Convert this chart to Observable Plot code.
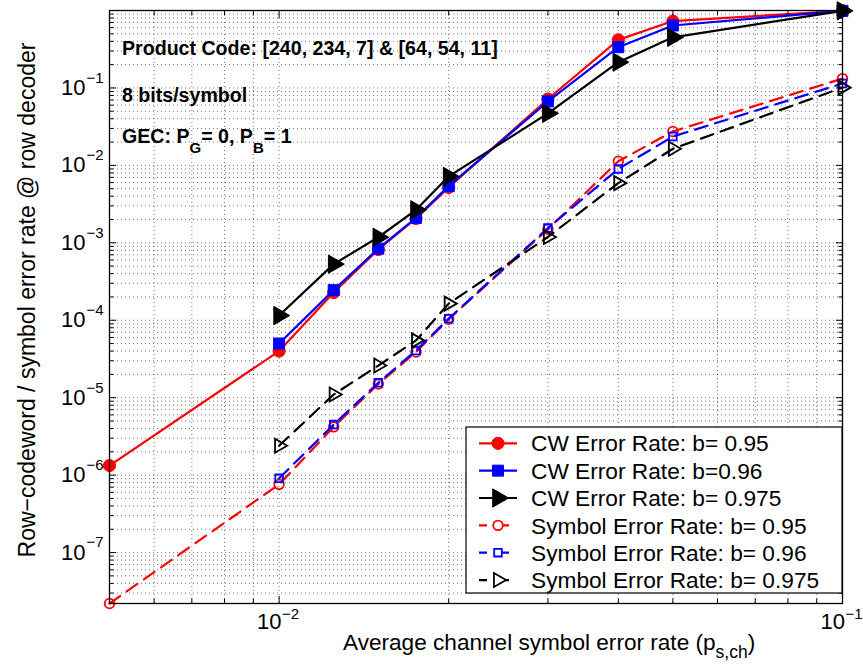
<!DOCTYPE html>
<html><head><meta charset="utf-8">
<script src="https://cdn.jsdelivr.net/npm/d3@7"></script>
<script src="https://cdn.jsdelivr.net/npm/@observablehq/plot@0.6"></script>
<style>
body{margin:0;background:#fff}
svg{font-family:"Liberation Sans",Arial,Helvetica,sans-serif}
</style>
</head><body><div id="chart"></div>
<script>
// Average channel symbol error rate (x)
const xValues = [0.005, 0.01, 0.0125, 0.015, 0.0175, 0.02, 0.03, 0.04, 0.05, 0.1];
// Row-codeword error rate
const cw095  = [1.33e-6, 4.0e-5, 2.28e-4, 8.2e-4, 2.06e-3, 5.2e-3, 0.072, 0.418, 0.73, 0.99];
const cw096  = [null, 5.0e-5, 2.45e-4, 8.4e-4, 2.1e-3, 5.4e-3, 0.067, 0.336, 0.64, 0.99];
const cw0975 = [null, 1.15e-4, 5.3e-4, 1.18e-3, 2.67e-3, 7.2e-3, 0.047, 0.215, 0.45, 0.99];
// Symbol error rate
const ser095  = [2.2e-8, 7.6e-7, 4.2e-6, 1.5e-5, 3.9e-5, 1.03e-4, 1.5e-3, 0.0113, 0.0274, 0.132];
const ser096  = [null, 9.1e-7, 4.5e-6, 1.56e-5, 4.07e-5, 1.05e-4, 1.55e-3, 9.0e-3, 0.0236, 0.114];
const ser0975 = [null, 2.4e-6, 1.1e-5, 2.6e-5, 5.5e-5, 1.64e-4, 1.19e-3, 5.9e-3, 0.0164, 0.101];

const seriesLabels = [
  "CW Error Rate: b= 0.95", "CW Error Rate: b=0.96", "CW Error Rate: b= 0.975",
  "Symbol Error Rate: b= 0.95", "Symbol Error Rate: b= 0.96", "Symbol Error Rate: b= 0.975"
];
const seriesValues = [cw095, cw096, cw0975, ser095, ser096, ser0975];
const seriesColors = ["#ff0000", "#0000ff", "#000000", "#ff0000", "#0000ff", "#000000"];
const seriesDashed = [false, false, false, true, true, true];
const seriesSymbols = ["circle", "square", "triangle", "circle", "square", "triangle"];
const seriesFilled = [true, true, true, false, false, false];
const seriesR = [6.1, 6.2, 6.8, 4.8, 4.3, 5.2];

// tick labels
const xMajor = [0.01, 0.1];
const xMajorExp = ["−2", "−1"];
const yMajor = [1e-7, 1e-6, 1e-5, 1e-4, 1e-3, 1e-2, 1e-1];
const yMajorExp = ["−7", "−6", "−5", "−4", "−3", "−2", "−1"];

const xGrid = [];
[1e-3, 1e-2].forEach(d => [1,2,3,4,5,6,7,8,9].forEach(k => { const v = k*d; if (v >= 0.005 - 1e-12) xGrid.push(v); }));
xGrid.push(0.1);
const yGrid = [];
[1e-8,1e-7,1e-6,1e-5,1e-4,1e-3,1e-2,1e-1].forEach(d => [1,2,3,4,5,6,7,8,9].forEach(k => { const v = k*d; if (v >= 2.2e-8) yGrid.push(v); }));
yGrid.push(1);
const xMinor = xGrid.filter(v => !xMajor.includes(v));
const yMinor = yGrid.filter(v => !yMajor.includes(v));

const rows = [];
seriesValues.forEach((vals, s) => vals.forEach((v, i) => { if (v != null) rows.push({x: xValues[i], y: v, s}); }));

const dash = "13,8";
const marks = [
  Plot.gridX(xGrid, {stroke: "#000", strokeOpacity: 0.55, strokeDasharray: "1,3", strokeWidth: 1}),
  Plot.gridY(yGrid, {stroke: "#000", strokeOpacity: 0.55, strokeDasharray: "1,3", strokeWidth: 1})
];
seriesValues.forEach((_, s) => {
  const data = rows.filter(d => d.s === s);
  marks.push(Plot.line(data, {x: "x", y: "y", stroke: seriesColors[s], strokeWidth: 2.2,
    strokeDasharray: seriesDashed[s] ? dash : null}));
  marks.push(Plot.dot(data, {x: "x", y: "y", symbol: seriesSymbols[s], r: seriesR[s],
    rotate: seriesSymbols[s] === "triangle" ? 90 : 0,
    fill: seriesFilled[s] ? seriesColors[s] : "none",
    stroke: seriesColors[s], strokeWidth: seriesFilled[s] ? 1 : 1.8}));
});
marks.push(
  Plot.axisX({anchor: "bottom", ticks: xMajor, tickSize: -7, tickFormat: () => "", label: null}),
  Plot.axisX({anchor: "bottom", ticks: xMinor, tickSize: -4.5, tickFormat: () => "", label: null}),
  Plot.axisX({anchor: "top", ticks: xMajor, tickSize: -7, tickFormat: () => "", label: null}),
  Plot.axisX({anchor: "top", ticks: xMinor, tickSize: -4.5, tickFormat: () => "", label: null}),
  Plot.axisY({anchor: "left", ticks: yMajor, tickSize: -7, tickFormat: () => "", label: null}),
  Plot.axisY({anchor: "left", ticks: yMinor, tickSize: -4.5, tickFormat: () => "", label: null}),
  Plot.axisY({anchor: "right", ticks: yMajor, tickSize: -7, tickFormat: () => "", label: null}),
  Plot.axisY({anchor: "right", ticks: yMinor, tickSize: -4.5, tickFormat: () => "", label: null}),
  Plot.frame({stroke: "#000", strokeWidth: 1.3}),
  Plot.text(yMajor, {y: d => d, frameAnchor: "left", text: () => "10", textAnchor: "end", dx: -24, fontSize: 22, fill: "#000"}),
  Plot.text(yMajor, {y: d => d, frameAnchor: "left", text: (d, i) => yMajorExp[i], textAnchor: "start", dx: -23, dy: -10, fontSize: 15, fill: "#000"}),
  Plot.text(xMajor, {x: d => d, frameAnchor: "bottom", text: () => "10", textAnchor: "end", dx: 2.5, dy: 25.5, fontSize: 22, fill: "#000"}),
  Plot.text(xMajor, {x: d => d, frameAnchor: "bottom", text: (d, i) => xMajorExp[i], textAnchor: "start", dx: 3, dy: 15, fontSize: 15, fill: "#000"})
);

const chart = Plot.plot({
  width: 863, height: 667,
  marginLeft: 109, marginRight: 21, marginTop: 10, marginBottom: 64,
  x: {type: "log", domain: [0.005, 0.1], label: null},
  y: {type: "log", domain: [2.2e-8, 1], label: null},
  style: {fontFamily: "'Liberation Sans', Arial, Helvetica, sans-serif", background: "white", color: "black", overflow: "visible"},
  marks
});
document.getElementById("chart").appendChild(chart);

const svg = d3.select(chart);
const font = "'Liberation Sans', Arial, Helvetica, sans-serif";

// annotations
const ann = svg.append("g").attr("font-family", font).attr("font-weight", "bold").attr("font-size", 19.6)
  .attr("fill", "#000").attr("text-anchor", "start");
ann.append("text").attr("x", 122).attr("y", 55).text("Product Code: [240, 234, 7] & [64, 54, 11]");
ann.append("text").attr("x", 122).attr("y", 101.5).text("8 bits/symbol");
const gec = ann.append("text").attr("x", 122).attr("y", 143);
gec.append("tspan").text("GEC: P");
gec.append("tspan").attr("dy", 10).attr("font-size", 15).text("G");
gec.append("tspan").attr("dy", -10).text("= 0, P");
gec.append("tspan").attr("dy", 10).attr("font-size", 15).text("B");
gec.append("tspan").attr("dy", -10).text("= 1");

// axis labels
const xl = svg.append("text").attr("font-family", font).attr("font-size", 22.6).attr("fill", "#000")
  .attr("text-anchor", "start").attr("x", 343).attr("y", 650);
xl.append("tspan").text("Average channel symbol error rate (p");
xl.append("tspan").attr("dy", 8).attr("font-size", 17.5).text("s,ch");
xl.append("tspan").attr("dy", -8).text(")");
svg.append("text").attr("font-family", font).attr("font-size", 23).attr("fill", "#000")
  .attr("text-anchor", "middle").attr("transform", "translate(35,300) rotate(-90)")
  .text("Row−codeword / symbol error rate @ row decoder");

// legend
const lg = svg.append("g").attr("font-family", font).attr("text-anchor", "start");
lg.append("rect").attr("x", 466).attr("y", 427).attr("width", 376).attr("height", 166)
  .attr("fill", "#fff").attr("stroke", "#000").attr("stroke-width", 1.2);
const symMap = {circle: d3.symbolCircle, square: d3.symbolSquare, triangle: d3.symbolTriangle};
seriesLabels.forEach((lab, s) => {
  const cy = 443.3 + s * 27.35;
  lg.append("line").attr("x1", 479).attr("x2", seriesDashed[s] ? 509 : 517).attr("y1", cy).attr("y2", cy)
    .attr("stroke", seriesColors[s]).attr("stroke-width", 2.2)
    .attr("stroke-dasharray", seriesDashed[s] ? "8,8,14" : null);
  lg.append("path")
    .attr("d", d3.symbol(symMap[seriesSymbols[s]], Math.PI * seriesR[s] * seriesR[s])())
    .attr("transform", `translate(498,${cy})` + (seriesSymbols[s] === "triangle" ? " rotate(90)" : ""))
    .attr("fill", seriesFilled[s] ? seriesColors[s] : "#fff")
    .attr("stroke", seriesColors[s]).attr("stroke-width", seriesFilled[s] ? 1 : 1.8);
  lg.append("text").attr("x", 531).attr("y", cy).attr("dy", "0.36em").attr("font-size", 22.7).attr("fill", "#000").text(lab);
});
</script>
</body></html>
